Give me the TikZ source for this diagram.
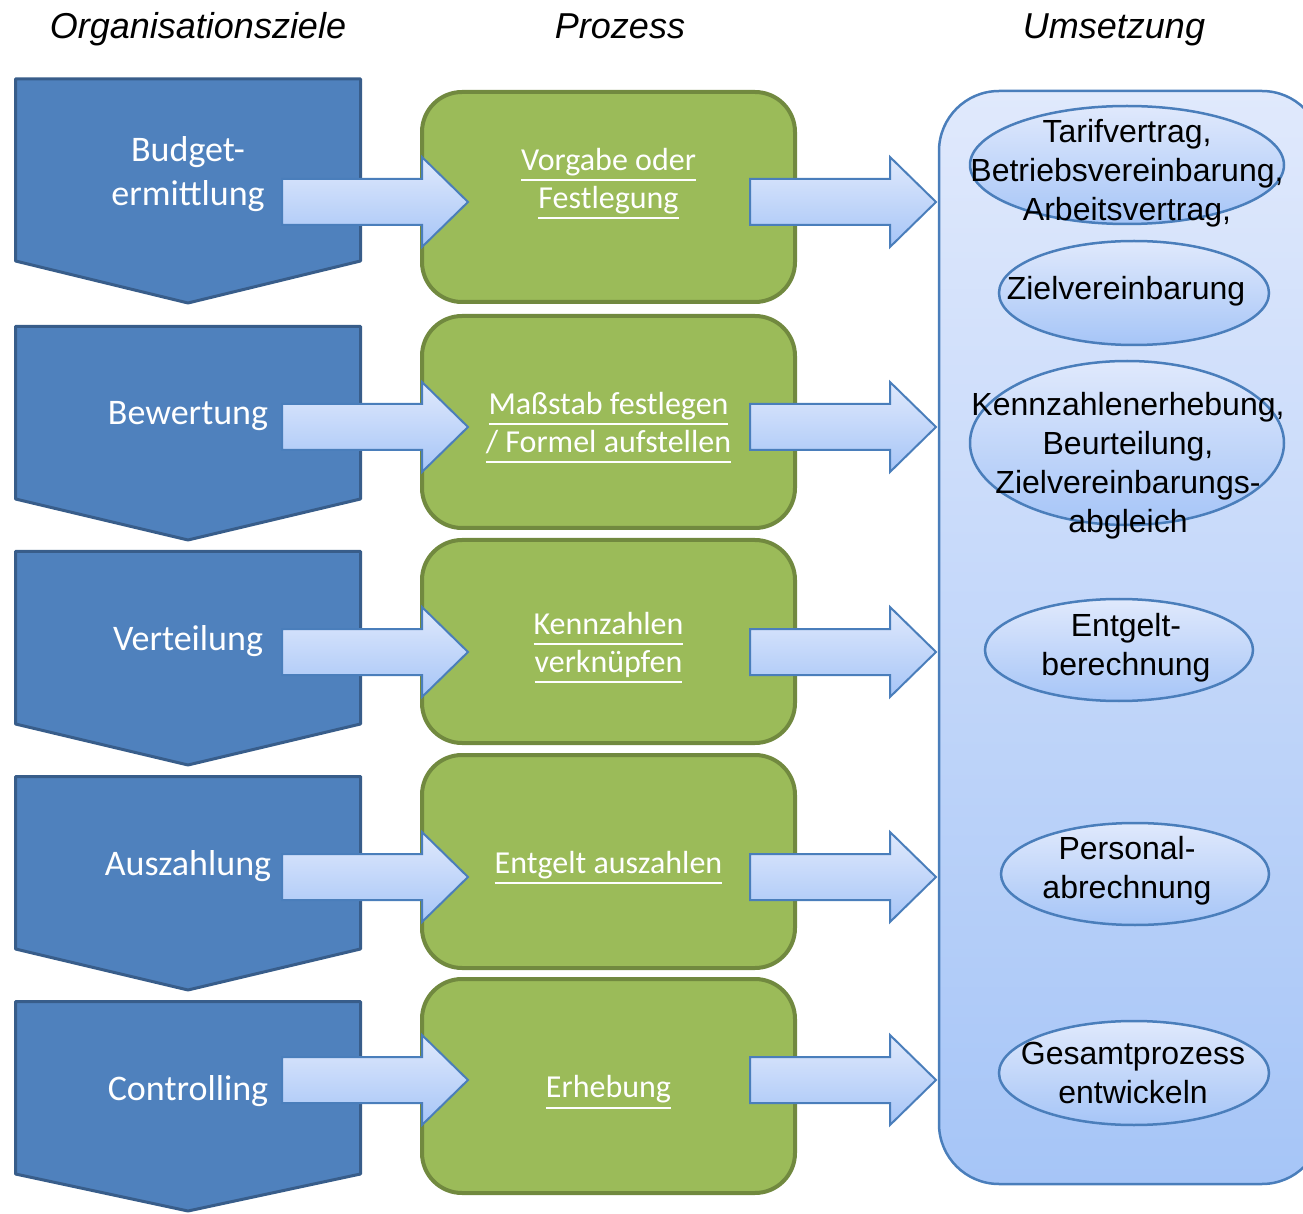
\documentclass[tikz,border=0pt]{standalone}
\usepackage{fontspec}
\setmainfont{Liberation Sans}
\newfontfamily\calibri{Carlito}
\usetikzlibrary{shapes.geometric}

\definecolor{zielblau}{RGB}{79,129,189}
\definecolor{zielrand}{RGB}{56,93,138}
\definecolor{prozgruen}{RGB}{155,187,89}
\definecolor{prozrand}{RGB}{113,137,63}
\definecolor{hellblauoben}{RGB}{224,233,252}
\definecolor{hellblauunten}{RGB}{166,197,247}
\definecolor{umsrand}{RGB}{74,126,187}

\newcommand{\ulinie}[1]{\setbox0=\hbox{#1}\leavevmode\rlap{\rule[-5.5pt]{\wd0}{1pt}}\box0}
\newcommand{\oben}{\rule{0pt}{17pt}}

\tikzset{
  ziel/.style={fill=zielblau, draw=zielrand, line width=1.5pt, line join=round},
  zieltext/.style={text=white, align=center, font=\calibri\fontsize{18}{22}\selectfont},
  prozess/.style={rectangle, rounded corners=20pt, fill=prozgruen, draw=prozrand, line width=2pt,
    minimum width=186.5pt, text=white, align=center, font=\calibri\fontsize{16}{19}\selectfont},
  umsetzung/.style={draw=umsrand, line width=1.25pt, top color=hellblauoben, bottom color=hellblauunten},
  blase/.style={ellipse, umsetzung, inner sep=0pt},
  blasentext/.style={align=center, font=\fontsize{16}{19.5}\selectfont},
  titel/.style={anchor=base, font=\itshape\fontsize{18}{22}\selectfont},
  pfeil/.pic={
    \draw[umsetzung, line width=1pt, line join=miter]
      (0,-23) -- (140,-23) -- (140,-45) -- (186,0) -- (140,45) -- (140,23) -- (0,23) -- cycle;
  }
}

\begin{document}
\begin{tikzpicture}[x=0.5pt, y=-0.5pt]
    \useasboundingbox (0,0) rectangle (1303,1214);
    \clip (0,0) rectangle (1303,1214);

    % Ueberschriften
    \node[titel] (t-ziele) at (198,39) {Organisationsziele};
    \node[titel] (t-prozess) at (620,39) {Prozess};
    \node[titel] (t-umsetzung) at (1114,39) {Umsetzung};

    % Organisationsziele
    \draw[ziel] (15.5,79) -- (360.5,79) -- (360.5,261) -- (188,303) -- (15.5,261) -- cycle;
    \draw[ziel] (15.5,326.5) -- (360.5,326.5) -- (360.5,499) -- (188,540) -- (15.5,499) -- cycle;
    \draw[ziel] (15.5,551.5) -- (360.5,551.5) -- (360.5,724) -- (188,765) -- (15.5,724) -- cycle;
    \draw[ziel] (15.5,776.5) -- (360.5,776.5) -- (360.5,949) -- (188,990) -- (15.5,949) -- cycle;
    \draw[ziel] (15.5,1001.5) -- (360.5,1001.5) -- (360.5,1174) -- (188,1211) -- (15.5,1174) -- cycle;

    \node[zieltext] (budget) at (188,174) {Budget-\\ermittlung};
    \node[zieltext] (bewertung) at (188,416) {Bewertung};
    \node[zieltext] (verteilung) at (188,641) {Verteilung};
    \node[zieltext] (auszahlung) at (188,866) {Auszahlung};
    \node[zieltext] (controlling) at (188,1091) {Controlling};

    % Prozess
    \node[prozess, minimum height=105pt] (vorgabe) at (608.5,197) {\ulinie{Vorgabe oder}\\\ulinie{Festlegung}\\\mbox{}};
    \node[prozess, minimum height=106pt] (massstab) at (608.5,422) {\oben\ulinie{Maßstab festlegen}\\\ulinie{/ Formel aufstellen}};
    \node[prozess, minimum height=101.5pt] (kennzahlen) at (608.5,641.5) {\oben\ulinie{Kennzahlen}\\\ulinie{verknüpfen}};
    \node[prozess, minimum height=106.5pt] (entgelt) at (608.5,861.5) {\oben\ulinie{Entgelt auszahlen}};
    \node[prozess, minimum height=107pt] (erhebung) at (608.5,1086) {\oben\ulinie{Erhebung}};

    % Umsetzung
    \draw[umsetzung, rounded corners=30pt] (939,91) rectangle (1322,1184);

    \node[blase, minimum width=157pt, minimum height=59pt] (tarif) at (1127,165) {};
    \node[blasentext] (tarif-text) at (1127,173) {Tarifvertrag,\\Betriebsvereinbarung,\\Arbeitsvertrag,};
    \node[blase, minimum width=135pt, minimum height=52pt] (zielver) at (1134,293) {};
    \node[blasentext] (zielver-text) at (1126,291) {Zielvereinbarung};
    \node[blase, minimum width=157pt, minimum height=82pt] (kennerh) at (1127,443) {};
    \node[blasentext] (kennerh-text) at (1128,466) {Kennzahlenerhebung,\\Beurteilung,\\Zielvereinbarungs-\\abgleich};
    \node[blase, minimum width=134pt, minimum height=51pt] (entgber) at (1119,650) {};
    \node[blasentext] (entgber-text) at (1126,648) {Entgelt-\\berechnung};
    \node[blase, minimum width=134pt, minimum height=51pt] (personal) at (1135,874) {};
    \node[blasentext] (personal-text) at (1127,871) {Personal-\\abrechnung};
    \node[blase, minimum width=135pt, minimum height=52pt] (gesamt) at (1134,1073) {};
    \node[blasentext] (gesamt-text) at (1133,1073) {Gesamtprozess\\entwickeln};

    % Pfeile
    \pic at (282,202) {pfeil};
    \pic at (282,427) {pfeil};
    \pic at (282,652) {pfeil};
    \pic at (282,877) {pfeil};
    \pic at (282,1080) {pfeil};
    \pic at (750,202) {pfeil};
    \pic at (750,427) {pfeil};
    \pic at (750,652) {pfeil};
    \pic at (750,877) {pfeil};
    \pic at (750,1080) {pfeil};
\end{tikzpicture}
\end{document}
